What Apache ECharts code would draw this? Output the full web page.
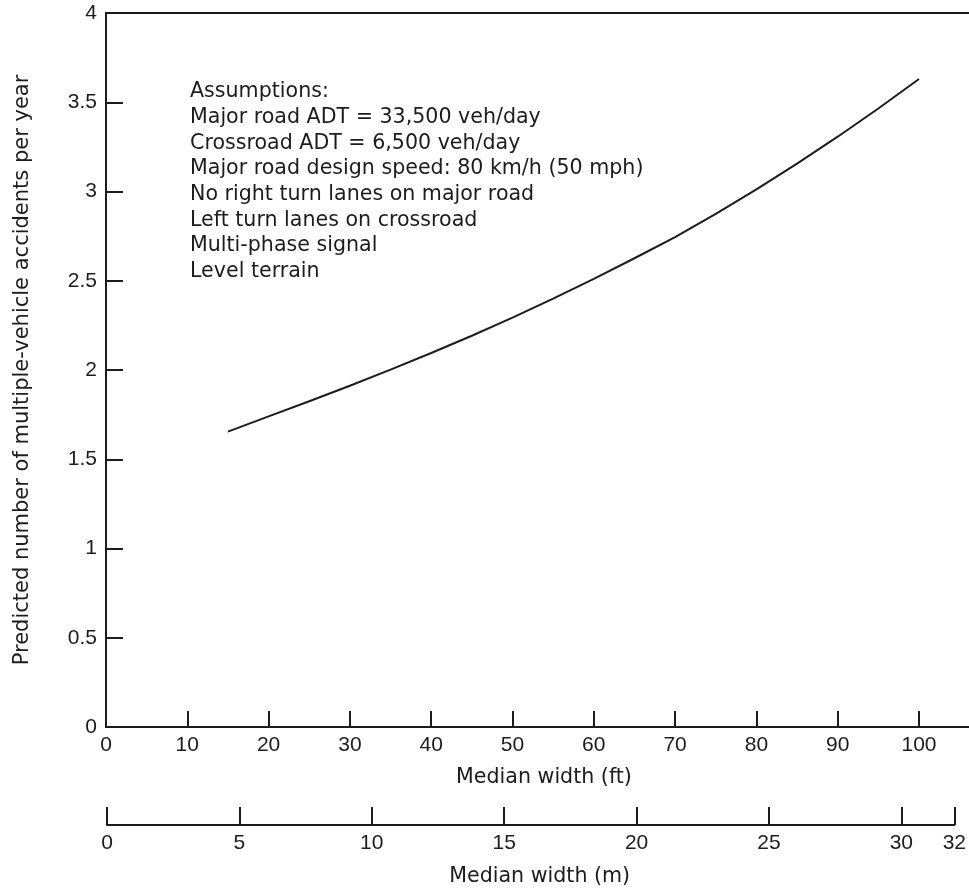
<!DOCTYPE html>
<html><head><meta charset="utf-8">
<script src="https://cdn.jsdelivr.net/npm/echarts@6/dist/echarts.min.js"></script>
<style>html,body{margin:0;padding:0;background:#fff}#c{width:969px;height:891px}</style>
</head><body><div id="c"></div>
<script>
// ---- data ----
const medianWidthFt = [15, 20, 25, 30, 35, 40, 45, 50, 55, 60, 65, 70, 75, 80, 85, 90, 95, 100];
const accidentsPerYear = [1.655, 1.74, 1.825, 1.912, 2.002, 2.095, 2.192, 2.293, 2.40, 2.511, 2.626, 2.745, 2.875, 3.012, 3.156, 3.307, 3.465, 3.63];
const ftTicks = [0, 10, 20, 30, 40, 50, 60, 70, 80, 90, 100];
const mTicks = [0, 5, 10, 15, 20, 25, 30, 32];
const yMin = 0, yMax = 4, yStep = 0.5;
const assumptions = [
  'Assumptions:',
  'Major road ADT = 33,500 veh/day',
  'Crossroad ADT = 6,500 veh/day',
  'Major road design speed: 80 km/h (50 mph)',
  'No right turn lanes on major road',
  'Left turn lanes on crossroad',
  'Multi-phase signal',
  'Level terrain'
];
const yTitle = 'Predicted number of multiple-vehicle accidents per year';
const xTitleFt = 'Median width (ft)';
const xTitleM = 'Median width (m)';

// ---- chart ----
const INK = '#1c1c1c';
const PROSE = 'DejaVu Sans';
const NUM = 'Liberation Sans';
const ftMax = 106.15;
const chart = echarts.init(document.getElementById('c'), null, {renderer: 'canvas'});
const num = {color: INK, fontSize: 21, fontFamily: NUM};
const prose = {color: INK, fontSize: 20.6, fontFamily: PROSE};
chart.setOption({
  animation: false,
  backgroundColor: '#fff',
  grid: [
    {left: 106, right: 0, top: 13, bottom: 164},
    {left: 107, right: 9, top: 815, bottom: 66}
  ],
  xAxis: [
    {
      type: 'value', gridIndex: 0, position: 'bottom', min: 0, max: ftMax,
      axisLine: {show: true, lineStyle: {color: INK, width: 2}},
      axisTick: {show: true, inside: true, length: 16, customValues: ftTicks, lineStyle: {color: INK, width: 2}},
      axisLabel: Object.assign({customValues: ftTicks, margin: 8}, num),
      splitLine: {show: false},
      name: xTitleFt, nameLocation: 'middle', nameGap: 40,
      nameTextStyle: Object.assign({padding: [0, 0, 0, 13]}, prose)
    },
    {
      type: 'value', gridIndex: 0, position: 'top', min: 0, max: ftMax,
      axisLine: {show: true, lineStyle: {color: INK, width: 2}},
      axisTick: {show: false}, axisLabel: {show: false}, splitLine: {show: false}
    },
    {
      type: 'value', gridIndex: 1, position: 'bottom', min: 0, max: 32,
      axisLine: {show: true, lineStyle: {color: INK, width: 2}},
      axisTick: {show: true, inside: true, length: 18, customValues: mTicks, lineStyle: {color: INK, width: 2}},
      axisLabel: Object.assign({customValues: mTicks, margin: 8}, num),
      splitLine: {show: false},
      name: xTitleM, nameLocation: 'middle', nameGap: 41,
      nameTextStyle: Object.assign({padding: [0, 0, 0, 18]}, prose)
    }
  ],
  yAxis: [
    {
      type: 'value', gridIndex: 0, min: yMin, max: yMax, interval: yStep,
      axisLine: {show: true, lineStyle: {color: INK, width: 2}},
      axisTick: {show: true, inside: true, length: 17, lineStyle: {color: INK, width: 2}},
      axisLabel: Object.assign({margin: 9, formatter: v => String(v)}, num),
      splitLine: {show: false},
      name: yTitle, nameLocation: 'middle', nameGap: 73, nameRotate: 90,
      nameTextStyle: Object.assign({}, prose, {fontSize: 21})
    },
    {type: 'value', gridIndex: 1, min: 0, max: 1, show: false}
  ],
  series: [{
    type: 'line', xAxisIndex: 0, yAxisIndex: 0,
    data: medianWidthFt.map((x, i) => [x, accidentsPerYear[i]]),
    showSymbol: false, smooth: false,
    lineStyle: {color: INK, width: 2}
  }],
  graphic: [{
    type: 'text', left: 190, top: 79,
    style: {
      text: assumptions.join('\n'),
      fill: INK, font: '20.6px "DejaVu Sans"', lineHeight: 25.7
    }
  }]
});
</script></body></html>
